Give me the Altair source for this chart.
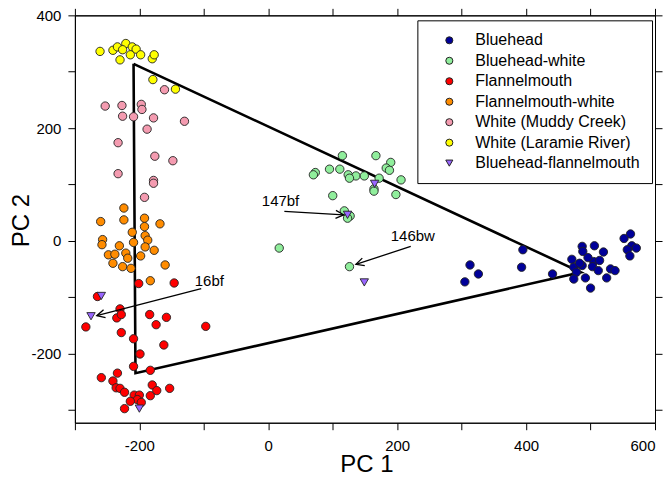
import math
import altair as alt
import pandas as pd

groups = ["Bluehead", "Bluehead-white", "Flannelmouth", "Flannelmouth-white",
          "White (Muddy Creek)", "White (Laramie River)", "Bluehead-flannelmouth"]
colors = ["#000099", "#90ee9c", "#ff0000", "#ff8c00", "#f49bb0", "#ffff00", "#9966ff"]
shapes = ["circle"] * 6 + ["triangle-down"]

bluehead_x = [313, 326, 305, 395, 393, 441, 471, 474, 478, 474, 487, 488, 487, 506, 520, 505,
              514, 503, 512, 531, 538, 492, 525, 500, 562, 552, 564, 571, 557, 561, 483, 496]
bluehead_y = [-43, -59, -73, -16, -47, -59, -33, -47, -56, -68, -10, -19, -44, -9, -20, -37,
              -35, -46, -53, -50, -53, -66, -66, -84, 12, 4, -9, -13, -16, -27, -40, -30]

bw_x = [115, 167, 190, 183, 188, 95, 111, 73, 70, 124, 136, 149, 126, 172, 206, 164, 164,
        198, 100, 118, 127, 123, 126, 17]
bw_y = [151, 151, 139, 129, 125, 127, 127, 121, 117, 117, 115, 115, 111, 111, 108, 92, 88,
        82, 80, 53, 44, 40, -46, -13]

fm_x = [-201, -146, -265, -230, -235, -228, -283, -184, -158, -174, -97, -228, -209, -162,
        -199, -209, -183, -259, -234, -241, -236, -230, -223, -180, -153, -173, -183, -208,
        -200, -203, -214, -223, -197]
fm_y = [-76, -75, -99, -121, -137, -131, -153, -131, -136, -149, -152, -163, -174, -185,
        -201, -223, -230, -243, -235, -249, -261, -262, -269, -256, -262, -266, -275, -274,
        -274, -282, -285, -298, -287]

fmw_x = [-224, -260, -224, -192, -192, -168, -211, -191, -257, -187, -258, -209, -231, -191,
         -177, -248, -238, -221, -198, -218, -241, -226, -213, -160, -183]
fmw_y = [58, 34, 37, 40, 25, 30, 15, 9, 2, 1, -7, -3, -9, -11, -17, -25, -24, -22, -27, -31,
         -40, -46, -49, -43, -71]

muddy_x = [-161, -253, -227, -197, -196, -226, -209, -178, -130, -188, -233, -176, -148,
           -233, -178, -178, -192]
muddy_y = [268, 239, 240, 242, 233, 221, 220, 218, 212, 198, 174, 150, 142, 119, 107, 102, 77]

laramie_x = [-261, -241, -234, -221, -226, -211, -205, -214, -198, -230, -180, -177, -179, -144]
laramie_y = [336, 338, 344, 350, 339, 344, 340, 330, 330, 321, 323, 330, 286, 269]

hybrid_x = [-259, -275, -200, 165, 123, 149]
hybrid_y = [-98, -134, -298, 101, 46, -74]

hull_x = [-209, 485, -206, -209]
hull_y = [314, -56, -235, 314]

note_text = ["16bf", "147bf", "146bw"]
note_x = [-114, -10, 190]
note_y = [-71, 70, 9]
arrow_x0 = [-104, 25, 221]
arrow_y0 = [-85, 52, -10]
arrow_x1 = [-266, 117, 136]
arrow_y1 = [-133, 46, -42]

X_DOM = [-300, 600]
Y_DOM = [-323, 400]
W, H = 581, 408
FONT = "Liberation Sans"

rows = []
for g, xs_, ys_ in zip(groups,
                       [bluehead_x, bw_x, fm_x, fmw_x, muddy_x, laramie_x, hybrid_x],
                       [bluehead_y, bw_y, fm_y, fmw_y, muddy_y, laramie_y, hybrid_y]):
    for a, b in zip(xs_, ys_):
        rows.append({"x": a, "y": b, "group": g})
pts_df = pd.DataFrame(rows)

hull_df = pd.DataFrame({"x": hull_x, "y": hull_y, "o": list(range(len(hull_x)))})

kx = W / (X_DOM[1] - X_DOM[0])
ky = H / (Y_DOM[1] - Y_DOM[0])
angles = [math.degrees(math.atan2(-(y1 - y0) * ky, (x1 - x0) * kx)) % 360
          for x0, y0, x1, y1 in zip(arrow_x0, arrow_y0, arrow_x1, arrow_y1)]
arrow_df = pd.DataFrame({"x0": arrow_x0, "y0": arrow_y0, "x1": arrow_x1, "y1": arrow_y1,
                         "ang": angles})
note_df = pd.DataFrame({"t": note_text, "x": note_x, "y": note_y})

xs = alt.Scale(domain=X_DOM, nice=False, zero=False)
ys = alt.Scale(domain=Y_DOM, nice=False, zero=False)

x_axis = alt.Axis(values=list(range(-300, 601, 100)),
                  labelExpr="datum.value % 200 == 0 ? '' + datum.value : ''",
                  title="PC 1", titleX=292, titleY=49, titleBaseline="alphabetic",
                  titleAlign="center", labelPadding=9)
y_axis = alt.Axis(values=list(range(-300, 401, 100)),
                  labelExpr="datum.value % 200 == 0 ? '' + datum.value : ''",
                  title="PC 2", titleX=-53, titleY=205, titleAngle=270,
                  titleBaseline="middle", titleAlign="center", labelPadding=7)

hull = alt.Chart(hull_df).mark_line(color="black", strokeWidth=2.6).encode(
    x=alt.X("x:Q", scale=xs, axis=alt.Axis(orient="top", values=list(range(-300, 601, 100)),
                                           labels=False, title=None)),
    y=alt.Y("y:Q", scale=ys, axis=alt.Axis(orient="right", values=list(range(-300, 401, 100)),
                                           labels=False, title=None)),
    order="o:Q",
)

leg = alt.Legend(title=None, orient="none", legendX=343, legendY=5,
                 strokeColor="black", fillColor="white", padding=12,
                 labelFontSize=16, labelFont=FONT, labelColor="black", labelLimit=400,
                 symbolSize=50, symbolStrokeColor="#222", symbolStrokeWidth=1,
                 symbolOffset=12, labelOffset=18, rowPadding=4.5)

points = alt.Chart(pts_df).mark_point(filled=True, size=70, stroke="#222",
                                      strokeWidth=0.9, opacity=1).encode(
    x=alt.X("x:Q", scale=xs, axis=x_axis),
    y=alt.Y("y:Q", scale=ys, axis=y_axis),
    color=alt.Color("group:N", scale=alt.Scale(domain=groups, range=colors), legend=leg),
    shape=alt.Shape("group:N", scale=alt.Scale(domain=groups, range=shapes), legend=leg),
)

arrow_lines = alt.Chart(arrow_df).mark_rule(color="black", strokeWidth=1.3).encode(
    x=alt.X("x0:Q", scale=xs, axis=None), y=alt.Y("y0:Q", scale=ys, axis=None),
    x2="x1:Q", y2="y1:Q")
arrow_heads = alt.Chart(arrow_df).mark_point(
    shape="M-1,-0.5L0,0L-1,0.5", filled=False, size=256, color="black",
    strokeWidth=1.3, opacity=1).encode(
    x=alt.X("x1:Q", scale=xs, axis=None), y=alt.Y("y1:Q", scale=ys, axis=None),
    angle=alt.Angle("ang:Q", scale=None))
notes = alt.Chart(note_df).mark_text(align="left", baseline="middle", fontSize=15,
                                     font=FONT, color="black").encode(
    x=alt.X("x:Q", scale=xs, axis=None), y=alt.Y("y:Q", scale=ys, axis=None),
    text="t:N")

chart = alt.layer(hull, points, arrow_lines, arrow_heads, notes).resolve_axis(
    x="independent", y="independent"
).properties(
    width=W, height=H,
    background="white",
    autosize=alt.AutoSizeParams(type="none"),
    padding={"left": 67, "top": 7, "right": 8, "bottom": 55},
).configure_view(stroke="black", strokeWidth=1).configure_axis(
    grid=False, tickSize=7, tickColor="black", domainColor="black", domainWidth=1,
    tickWidth=1, labelFont=FONT, labelFontSize=15, labelColor="black",
    titleFont=FONT, titleFontSize=24, titleFontWeight="normal", titleColor="black",
)

chart.save("out.html", embed_options={"renderer": "svg", "actions": False})
